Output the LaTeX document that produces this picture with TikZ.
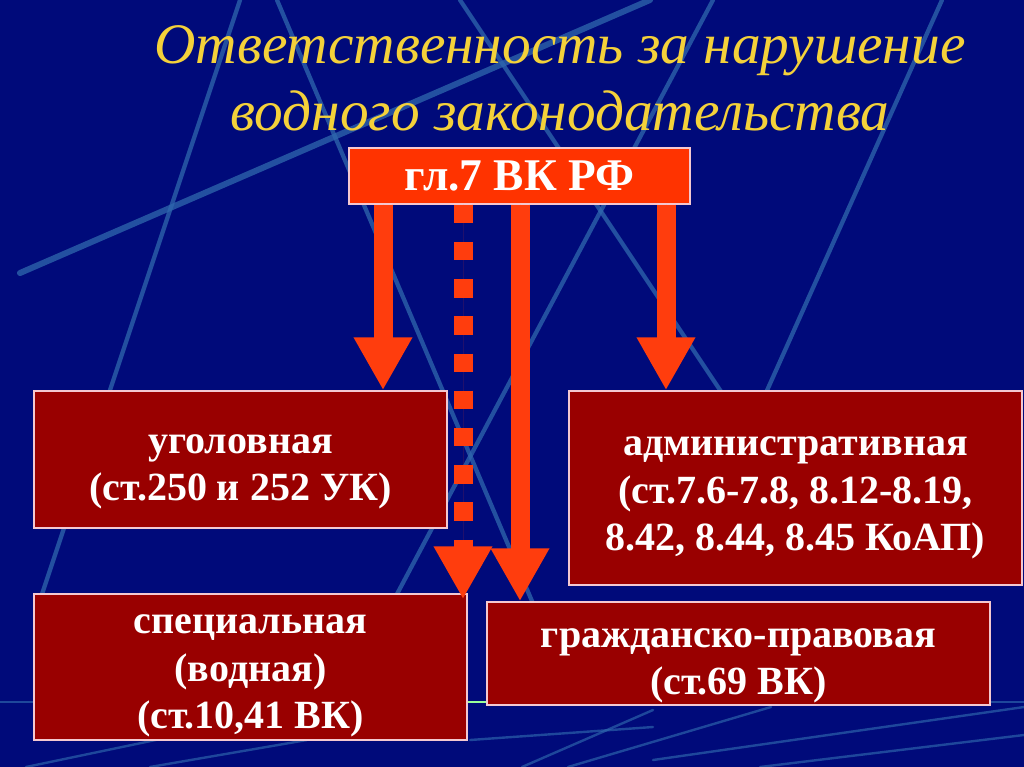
\documentclass[tikz,border=0pt]{standalone}
\usepackage{fontspec}
\setmainfont{Liberation Serif}
\usetikzlibrary{arrows.meta}
\definecolor{bgblue}{HTML}{000A7A}
\definecolor{lineblue}{HTML}{2F68AE}
\definecolor{boxred}{HTML}{990000}
\definecolor{topred}{HTML}{FF3300}
\definecolor{arrred}{HTML}{FF3D0D}
\definecolor{titleyellow}{HTML}{F4D13A}
\definecolor{edgepink}{HTML}{F4C8D0}
\tikzset{
  bgline/.style={draw=lineblue, line width=3.2pt, line cap=round, opacity=0.75},
  thinline/.style={draw=lineblue, line width=1.8pt, line cap=round, opacity=0.65},
  redbox/.style={rectangle, fill=boxred, draw=edgepink, line width=1.1pt, inner sep=0pt},
  boxtext/.style={text=white, align=center, inner sep=0pt,
    font=\bfseries\fontsize{30}{35.5}\selectfont},
  topbox/.style={rectangle, fill=topred, draw=edgepink, line width=1.1pt, inner sep=0pt,
    text=white, align=center, font=\bfseries\fontsize{34}{38}\selectfont},
  arr/.style={draw=arrred, line width=14.25pt,
    -{Triangle[width=41.25pt,length=39.75pt]}, fill=arrred},
  titletext/.style={text=titleyellow, align=center, inner sep=0pt,
    font=\itshape\fontsize{43}{50}\selectfont}
}
\begin{document}
\begin{tikzpicture}[x=0.75pt,y=-0.75pt]
\useasboundingbox (0,0) rectangle (1024,767);
\fill[bgblue] (0,0) rectangle (1024,767);
% background lines
\draw[bgline] (240,0) -- (40,600);
\draw[bgline] (277,0) -- (540,620);
\draw[bgline, line width=4.5pt] (20,273) -- (650,0);
\draw[bgline] (460,0) -- (760,450);
\draw[bgline] (713,0) -- (330,720);
\draw[bgline] (942,0) -- (700,540);
\draw[thinline] (0,702) -- (1024,702);
\draw[draw=green!40!white, line width=1.5pt] (467,702) -- (487,702);
\draw[thinline] (26,767) -- (170,737);
\draw[thinline] (150,767) -- (307,740);
\draw[thinline] (470,740) -- (653,727);
\draw[thinline] (522,767) -- (653,710);
\draw[thinline] (568,767) -- (771,707);
\draw[thinline] (653,760) -- (1024,707);
\draw[thinline] (760,767) -- (1024,735);
% title
\node[titletext] (title) at (560,78) {Ответственность за нарушение\\водного законодательства};
% boxes
\node[redbox, minimum width=309.75pt, minimum height=102.75pt] (ugol) at (240.5,459.5) {};
\node[boxtext] (ugolT) at (240.5,472) {уголовная\\(ст.250 и 252 УК)};
\node[redbox, minimum width=324.75pt, minimum height=109.5pt] (spec) at (250.5,667) {};
\node[boxtext] (specT) at (250.5,676) {специальная\\(водная)\\(ст.10,41 ВК)};
\node[redbox, minimum width=339.75pt, minimum height=145.5pt] (admin) at (795.5,488) {};
\node[boxtext] (adminT) at (795.5,498) {административная\\(ст.7.6-7.8, 8.12-8.19,\\8.42, 8.44, 8.45 КоАП)};
\node[redbox, minimum width=377.25pt, minimum height=77.25pt] (grazh) at (738.5,653.5) {};
\node[boxtext] (grazhT) at (738.5,666) {гражданско-правовая\\(ст.69 ВК)};
\node[topbox, minimum width=255.75pt, minimum height=42pt] (top) at (519.5,176)
  {гл.7 ВК РФ};
% arrows
\coordinate (xa) at (383,0);
\coordinate (xb) at (463,0);
\coordinate (xc) at (520,0);
\coordinate (xd) at (666,0);
\draw[arr] (top.south -| xa) -- (ugol.north -| xa);
\draw[arr, dash pattern=on 13.9pt off 14pt] (top.south -| xb) -- ([yshift=-4.5pt]spec.north -| xb);
\draw[arr] (top.south -| xc) -- (grazh.north -| xc);
\draw[arr] (top.south -| xd) -- (admin.north -| xd);
\end{tikzpicture}
\end{document}
